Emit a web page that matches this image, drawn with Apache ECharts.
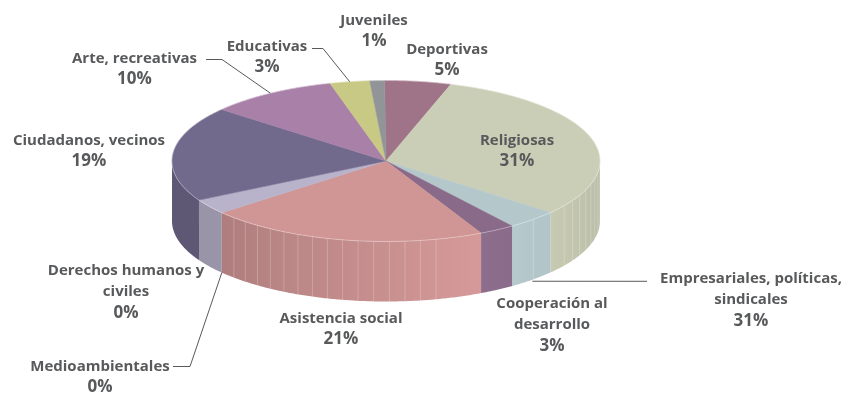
<!DOCTYPE html>
<html><head><meta charset="utf-8">
<style>html,body{margin:0;padding:0;background:#fff}#c{width:844px;height:396px}</style>
<script src="https://cdn.jsdelivr.net/npm/echarts@6/dist/echarts.min.js"></script>
</head><body><div id="c"></div>
<script>
// Data, clockwise from the top of the pie
const categories = ['Deportivas','Religiosas','Empresariales, políticas,\nsindicales','Cooperación al\ndesarrollo','Asistencia social','Medioambientales','Derechos humanos y\nciviles','Ciudadanos, vecinos','Arte, recreativas','Educativas','Juveniles'];
const sliceValues = [5, 31.1, 3.9, 2.7, 21.2, 0, 3, 19.1, 9.7, 3, 1.1];
const printedLabels = ['5%','31%','31%','3%','21%','0%','0%','19%','10%','3%','1%'];

// Styles
const topColors = ['#A07488','#CBCEB6','#B4C8CC','#896A88','#D09595','#B8B2CA','#B8B2CA','#726A8D','#A981A8','#C8C984','#929598'];
const textColor = '#58595B';

// Layout
const pie = {cx:386, cy:161, rx:214, ry:80.5, depth:60, startDeg:-0.4};
const labelCenters = [[447,60],[517,151],[751,300],[552,325],[341,329],[100,377],[126,292],[89,151],[134.5,69],[267,57],[374,31]];
const lineHeight = 21;
const leaders = {
  2:{pts:[[647,281.3]], drop:61.5},
  5:{pts:[[173,366.5],[190,366.5]], drop:60},
  8:{pts:[[206,59.5],[222,59.5]], drop:0},
  9:{pts:[[312,48.5],[323,48.5]], drop:0}
};
const facetRanges = [[90,124],[136.5,137],[166.5,226]];
const facetStep = 4.2;

const total = sliceValues.reduce((a,b)=>a+b,0);
const starts = []; let acc = pie.startDeg;
sliceValues.forEach(v=>{starts.push(acc); acc += v/total*360;});

function pt(deg, drop){
  const r = deg*Math.PI/180;
  return [pie.cx + pie.rx*Math.sin(r), pie.cy - pie.ry*Math.cos(r) + (drop||0)];
}
function shade(hex, f){
  const n = parseInt(hex.slice(1),16);
  const c = [n>>16&255,n>>8&255,n&255].map(v=>Math.min(255,Math.round(v*f)));
  return 'rgb('+c.join(',')+')';
}
function lightAt(deg){
  return Math.max(0.83, deg>154 ? 1.03-0.0025*(deg-154) : 1.03-0.002*(154-deg));
}
function arc(a,b,drop,step){
  const out=[]; const n=Math.max(1,Math.ceil((b-a)/(step||1)));
  for(let i=0;i<=n;i++) out.push(pt(a+(b-a)*i/n,drop));
  return out;
}
function renderItem(params, api){
  const i = params.dataIndex;
  const a = starts[i], b = a + api.value(0)/total*360;
  const kids = [];
  const col = topColors[i];
  const wa = Math.max(a,90), wb = Math.min(b,270);
  if(wb>wa){
    // gradient runs left to right on screen: larger angle is further left in the front half
    const stops=[]; const N=6;
    const xa=pt(wb)[0], xb=pt(wa)[0];
    for(let k=0;k<=N;k++){
      const d=wb-(wb-wa)*k/N;
      stops.push({offset:(pt(d)[0]-xa)/(xb-xa), color:shade(col,lightAt(d))});
    }
    kids.push({type:'polygon',shape:{points:arc(wa,wb,0,0.5).concat(arc(wa,wb,pie.depth,0.5).reverse())},
      style:{fill:new echarts.graphic.LinearGradient(0,0,1,0,stops)},silent:true});
    facetRanges.forEach(r=>{
      for(let d=r[0]; d<=r[1]; d+=facetStep){
        if(d>wa && d<wb){
          kids.push({type:'line',shape:{x1:pt(d)[0],y1:pt(d)[1],x2:pt(d,pie.depth)[0],y2:pt(d,pie.depth)[1]},
            style:{stroke:'rgba(255,255,255,0.22)',lineWidth:1},z2:2,silent:true});
        }
      }
    });
  }
  if(b>a){
    const rim = arc(a,b,0,0.5);
    kids.push({type:'polygon',shape:{points:[[pie.cx,pie.cy]].concat(rim)},style:{fill:col,stroke:col,lineWidth:0.5},z2:3,silent:true});
    kids.push({type:'polyline',shape:{points:rim},style:{fill:null,stroke:'rgba(255,255,255,0.4)',lineWidth:0.8},z2:4,silent:true});
  }
  const ld = leaders[i];
  if(ld){
    const end = pt((a+b)/2, ld.drop);
    kids.push({type:'polyline',shape:{points:ld.pts.concat([end])},style:{fill:null,stroke:textColor,lineWidth:1},z2:8,silent:true});
  }
  const c = labelCenters[i];
  const nameLines = categories[i].split('\n').length;
  const blockTop = c[1] - (nameLines+1)*lineHeight/2;
  const font = {fontFamily:'"Open Sans"', fontWeight:700, fill:textColor};
  kids.push({type:'text',z2:10,silent:true,style:Object.assign({
    text:categories[i], x:c[0], y:blockTop, align:'center', verticalAlign:'top',
    fontSize:15, lineHeight:lineHeight}, font)});
  kids.push({type:'text',z2:10,silent:true,style:Object.assign({
    text:printedLabels[i], x:c[0], y:blockTop+nameLines*lineHeight+lineHeight/2, align:'center', verticalAlign:'middle',
    fontSize:17}, font)});
  return {type:'group',children:kids};
}
const chart = echarts.init(document.getElementById('c'));
chart.setOption({
  animation:false,
  backgroundColor:'#fff',
  series:[{
    type:'custom',
    coordinateSystem:'none',
    renderItem:renderItem,
    clip:false,
    data:sliceValues.map((v,i)=>({name:categories[i].replace('\n',' '),value:[v]}))
  }]
});
</script></body></html>
